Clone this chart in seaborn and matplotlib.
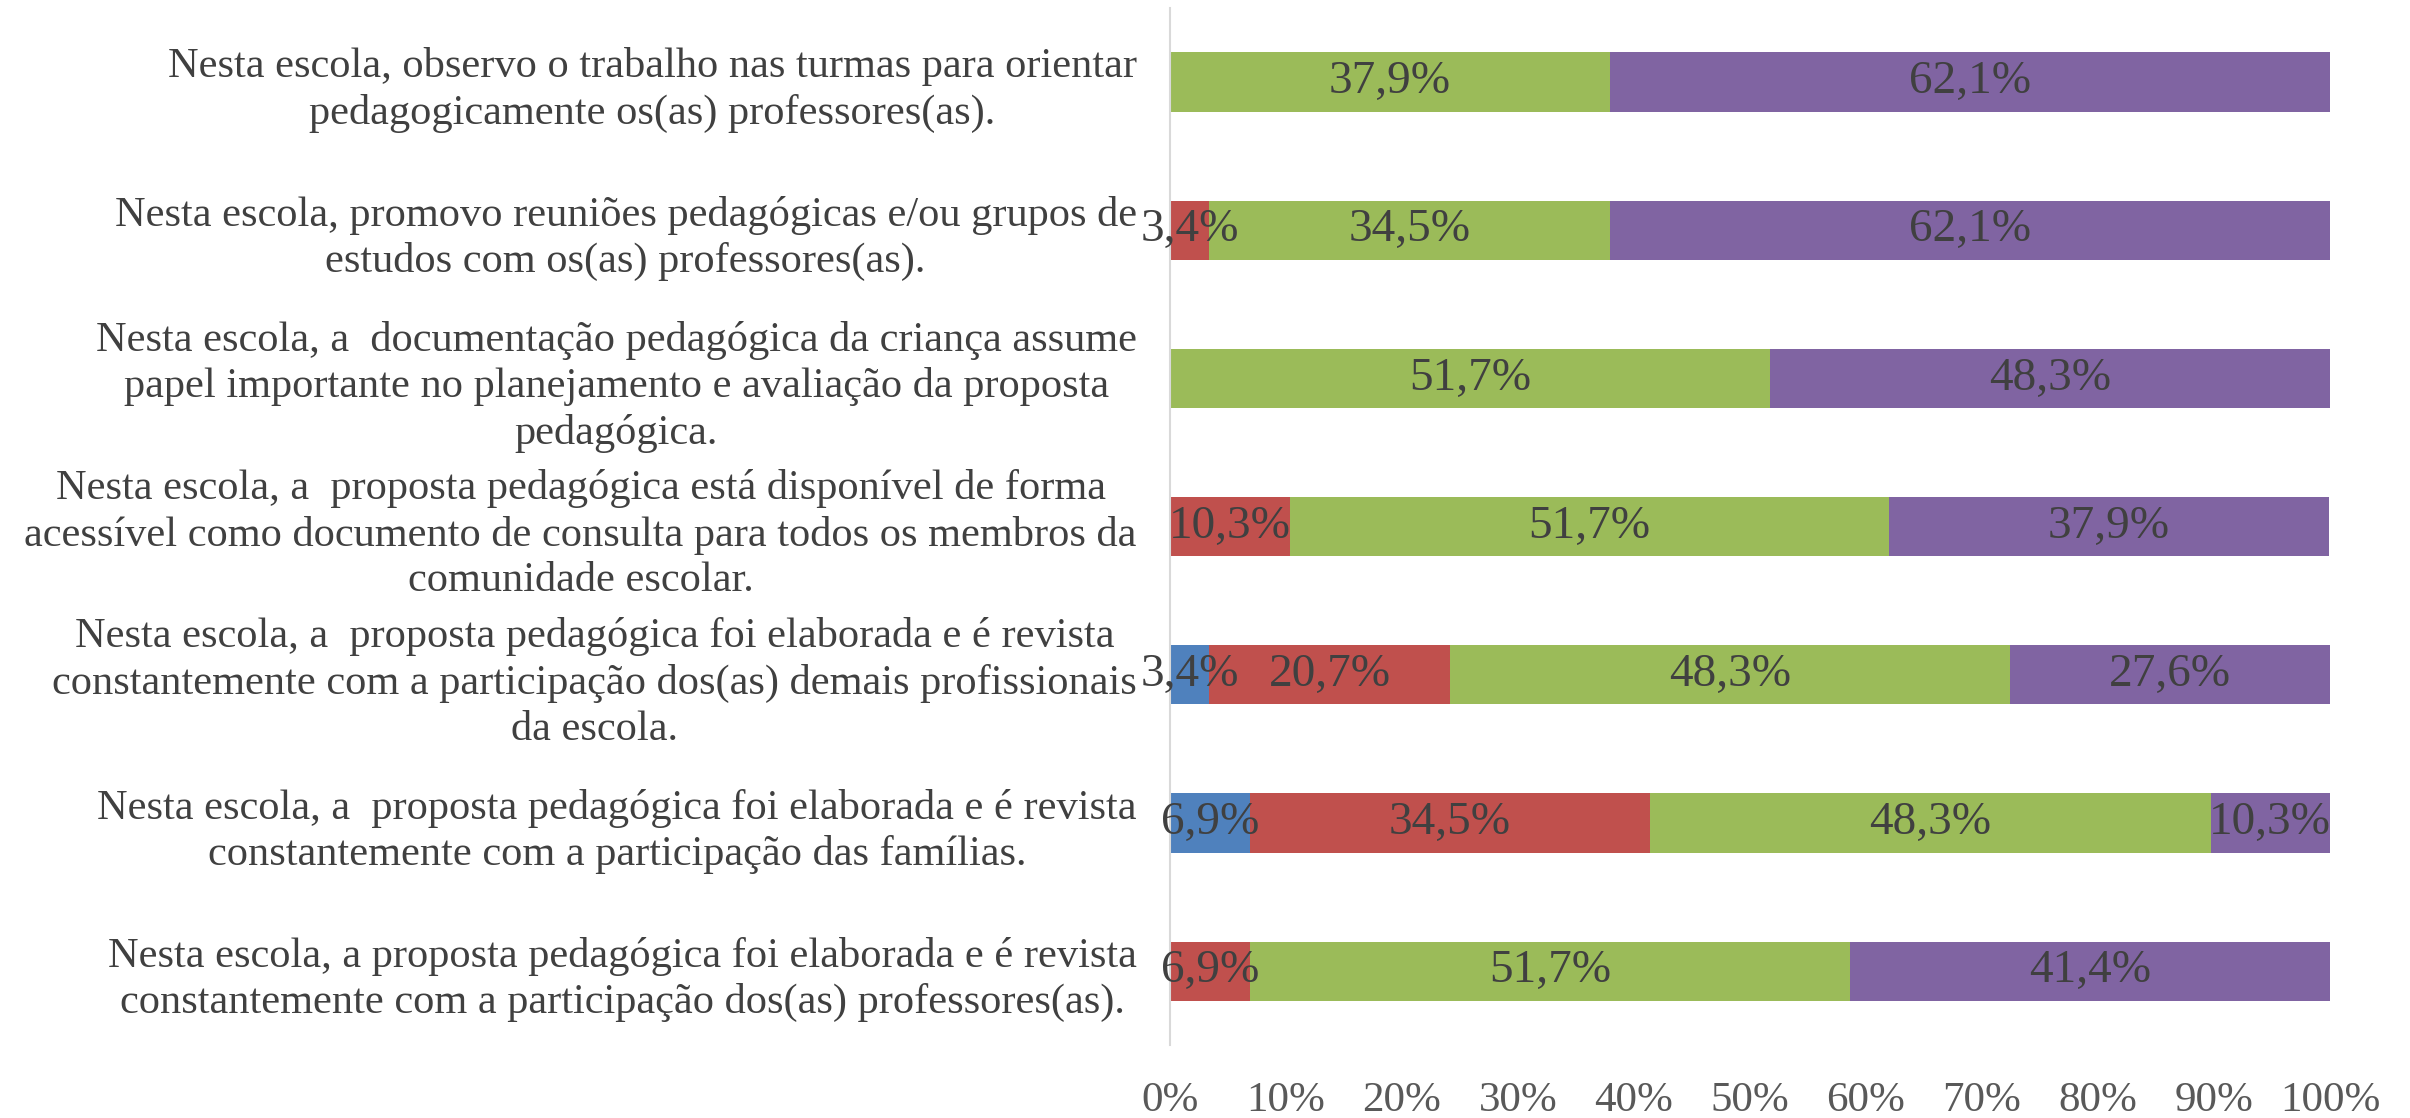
import matplotlib
matplotlib.use("Agg")
import matplotlib.pyplot as plt
import seaborn as sns
import numpy as np

# categories, top to bottom
categories = [
    "Nesta escola, observo o trabalho nas turmas para orientar\npedagogicamente os(as) professores(as).",
    "Nesta escola, promovo reuniões pedagógicas e/ou grupos de\nestudos com os(as) professores(as).",
    "Nesta escola, a  documentação pedagógica da criança assume\npapel importante no planejamento e avaliação da proposta\npedagógica.",
    "Nesta escola, a  proposta pedagógica está disponível de forma\nacessível como documento de consulta para todos os membros da\ncomunidade escolar.",
    "Nesta escola, a  proposta pedagógica foi elaborada e é revista\nconstantemente com a participação dos(as) demais profissionais\nda escola.",
    "Nesta escola, a  proposta pedagógica foi elaborada e é revista\nconstantemente com a participação das famílias.",
    "Nesta escola, a proposta pedagógica foi elaborada e é revista\nconstantemente com a participação dos(as) professores(as).",
]

# series values (%)
blue_vals = [0.0, 0.0, 0.0, 0.0, 3.4, 6.9, 0.0]
red_vals = [0.0, 3.4, 0.0, 10.3, 20.7, 34.5, 6.9]
green_vals = [37.9, 34.5, 51.7, 51.7, 48.3, 48.3, 51.7]
purple_vals = [62.1, 62.1, 48.3, 37.9, 27.6, 10.3, 41.4]

series = [blue_vals, red_vals, green_vals, purple_vals]
colors = ["#4F81BD", "#C0504D", "#9BBB59", "#8064A2"]

sns.set_style("white")
plt.rcParams["font.family"] = ["Liberation Serif", "DejaVu Serif"]

fig = plt.figure(figsize=(24.10, 11.18), dpi=100)
ax = fig.add_axes([0.4855, 0.065, 0.4813, 0.928])

vals = np.array(series)
cum = np.cumsum(vals, axis=0)

# draw cumulative bars from the largest total down so each segment shows
for i in range(len(series) - 1, -1, -1):
    sns.barplot(x=cum[i], y=categories, orient="h", color=colors[i],
                width=0.4, saturation=1, linewidth=0, ax=ax)

# value labels in the middle of each segment
for i in range(len(series)):
    starts = cum[i] - vals[i]
    for j, v in enumerate(vals[i]):
        if v <= 0:
            continue
        ax.text(starts[j] + v / 2, j, f"{v:.1f}%".replace(".", ","),
                ha="center", va="center", fontsize=34, color="#404040")

ax.set_xlim(0, 100)
ax.set_ylim(6.5, -0.5)
ax.set_xticks(np.arange(0, 101, 10))
ax.set_xticklabels([f"{t}%" for t in range(0, 101, 10)])
ax.set_xlabel("")
ax.set_ylabel("")
ax.tick_params(axis="x", length=0, pad=26, labelsize=31, labelcolor="#595959")
ax.tick_params(axis="y", length=0, pad=24, labelsize=30.5, labelcolor="#404040")
for lbl in ax.get_yticklabels():
    lbl.set_multialignment("center")
    lbl.set_linespacing(1.25)

for s in ["top", "right", "bottom"]:
    ax.spines[s].set_visible(False)
ax.spines["left"].set_color("#D9D9D9")
ax.spines["left"].set_linewidth(1.5)

fig.savefig("out.png", dpi=100)
